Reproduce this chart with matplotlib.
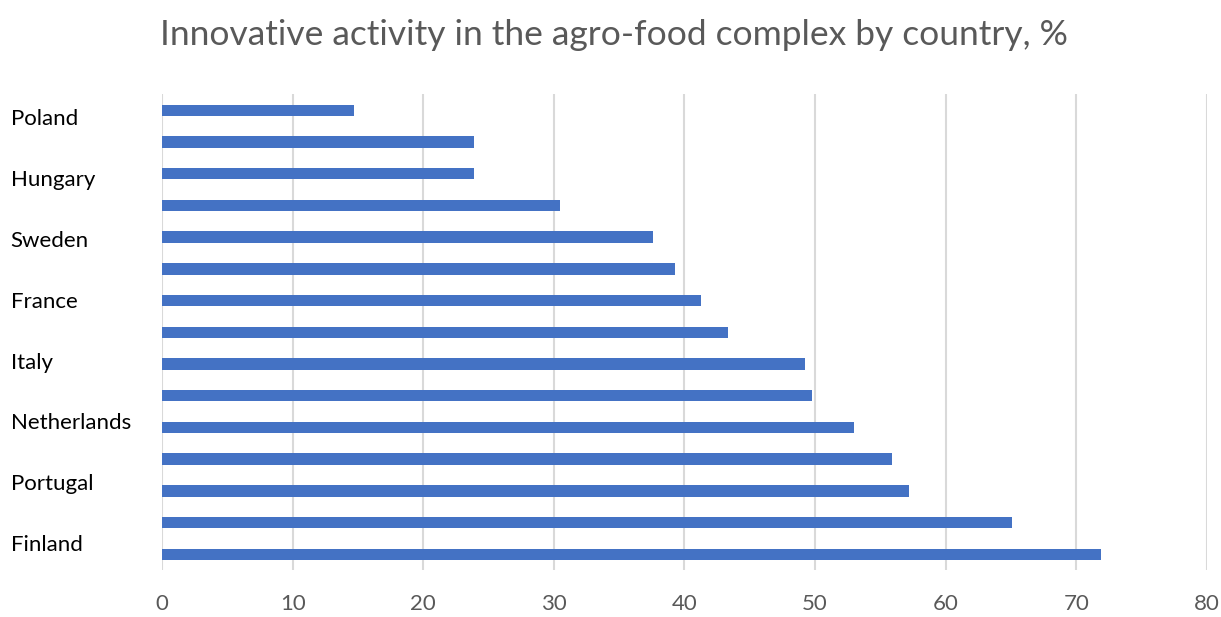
"""Innovative activity in the agro-food complex by country, horizontal bars."""

import matplotlib

matplotlib.use("Agg")
import matplotlib.pyplot as plt
import numpy as np

# every other category is labelled in the source chart
COUNTRIES = [
    "Poland", "", "Hungary", "", "Sweden", "", "France", "",
    "Italy", "", "Netherlands", "", "Portugal", "", "Finland",
]
VALUES = [14.7, 23.9, 23.9, 30.5, 37.6, 39.3, 41.3, 43.3,
          49.2, 49.8, 53.0, 55.9, 57.2, 65.1, 71.9]
X_TICKS = [0, 10, 20, 30, 40, 50, 60, 70, 80]
TITLE = "Innovative activity in the agro-food complex by country, %"

plt.rcParams["font.family"] = ["Lato", "DejaVu Sans"]

fig = plt.figure(figsize=(12.21, 6.17), dpi=100)
ax = fig.add_axes([0.1327, 0.076, 0.8558, 0.771])

y = np.arange(len(VALUES))
ax.barh(y, VALUES, height=0.36, color="#4472C4", zorder=3)

ax.set_xlim(0, 80)
ax.set_ylim(len(VALUES) - 0.5, -0.5)
ax.set_xticks(X_TICKS)
ax.set_xticklabels([str(t) for t in X_TICKS], fontsize=16, color="#595959")
ax.tick_params(axis="x", length=0, pad=17)
ax.grid(axis="x", color="#d9d9d9", linewidth=1.5, zorder=0)

# labels in the source sit slightly off their bars; keep only the named ones
named = [(i, name) for i, name in enumerate(COUNTRIES) if name]
label_pos = [0.22 + k * 1.918 for k in range(len(named))]
ax.set_yticks(label_pos)
ax.set_yticklabels([name for _, name in named], fontsize=16, color="black", ha="left")
ax.tick_params(axis="y", length=0, pad=109)

for spine in ax.spines.values():
    spine.set_visible(False)

fig.text(0.503, 0.943, TITLE, ha="center", va="center", fontsize=25.5, color="#595959")

fig.savefig("out.png", dpi=100)
plt.close(fig)
